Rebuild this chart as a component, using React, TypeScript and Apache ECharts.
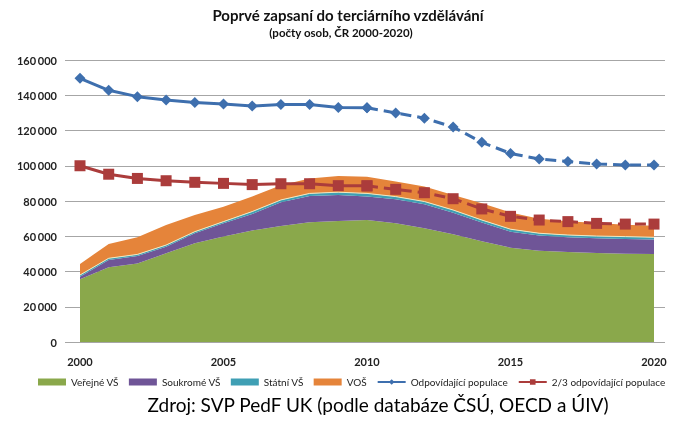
import React, { useEffect, useRef } from "react";
import * as echarts from "echarts";

const years = ["2000", "2001", "2002", "2003", "2004", "2005", "2006", "2007", "2008", "2009", "2010", "2011", "2012", "2013", "2014", "2015", "2016", "2017", "2018", "2019", "2020"];
const verejneVS = [35600, 42400, 44600, 50300, 56000, 59900, 63300, 65800, 68000, 68700, 69200, 67400, 64500, 61200, 57200, 53500, 51800, 51100, 50500, 50100, 50000];
const soukromeVS = [1400, 4100, 4200, 3700, 5700, 7500, 9300, 13500, 14800, 14700, 13300, 13600, 13700, 12200, 10600, 9100, 8600, 8300, 8300, 8400, 8200];
const statniVS = [1000, 1000, 900, 1000, 900, 900, 1400, 1300, 1500, 1600, 1800, 1500, 1500, 1500, 1400, 1400, 1300, 1300, 1300, 1300, 1200];
const vos = [6300, 8100, 9700, 11400, 9500, 8500, 8600, 8400, 8500, 9200, 9500, 8500, 8500, 8500, 9500, 9500, 8300, 7800, 7400, 6700, 6600];
const populace = [149600, 142800, 139200, 137300, 135900, 135000, 133900, 134700, 134700, 133100, 132900, 130000, 127000, 122000, 113300, 107000, 103800, 102400, 101000, 100400, 100400];
const dveTretiny = [100000, 95200, 92800, 91500, 90600, 90000, 89300, 89800, 89800, 88700, 88600, 86600, 84700, 81300, 75500, 71300, 69200, 68300, 67300, 66900, 66900];
const lastMeasured = "2010";

const FONT = "Lato, 'Liberation Sans', sans-serif";

const splitAt = years.indexOf(lastMeasured);
const solidPart = (vals: number[]) => vals.map((v, i) => (i <= splitAt ? v : null));
const dashedPart = (vals: number[]) => vals.map((v, i) => (i >= splitAt ? v : null));

const fmt = (v: number) => String(Math.round(v)).replace(/\B(?=(\d{3})+(?!\d))/g, "\u2006");

export default function App() {
  const ref = useRef<HTMLDivElement>(null);
  useEffect(() => {
    if (!ref.current) return;
    const chart = echarts.init(ref.current, null, { renderer: "svg" });
    const areaColors = ["#8aa84b", "#6f5597", "#3f9fb4", "#e5843a"];
    const blue = "#3e6fae";
    const red = "#ab3c3b";
    const area = (name: string, vals: number[], color: string, border?: string) => ({
      name,
      type: "line",
      xAxisIndex: 1,
      yAxisIndex: 1,
      stack: "total",
      data: vals,
      symbol: "none",
      lineStyle: border ? { width: 1, color: border } : { width: 0 },
      areaStyle: { color, opacity: 1 },
      itemStyle: { color },
      z: 1,
    });
    const popLine = (name: string, vals: (number | null)[], color: string, symbol: string, size: number, dashed: boolean) => ({
      name,
      type: "line",
      xAxisIndex: 1,
      yAxisIndex: 1,
      data: vals,
      symbol,
      symbolSize: size,
      showSymbol: true,
      lineStyle: { width: 3, color, type: dashed ? [11, 6] : "solid" },
      itemStyle: { color },
      z: 3,
    });
    chart.setOption({
      animation: false,
      grid: [
        { left: 65, right: 11, top: 60, bottom: 86 },
        { left: 80, right: 22, top: 60, bottom: 86 },
      ],
      xAxis: [
        { gridIndex: 0, type: "value", min: 0, max: 1, show: false },
        {
          gridIndex: 1,
          type: "category",
          data: years,
          boundaryGap: false,
          axisLine: { show: false },
          axisTick: { show: false },
          splitLine: { show: false },
          axisLabel: {
            interval: 4,
            fontFamily: FONT,
            fontWeight: "bold",
            fontSize: 11,
            color: "#222",
            margin: 14,
          },
        },
      ],
      yAxis: [
        {
          gridIndex: 0,
          type: "value",
          min: 0,
          max: 160000,
          interval: 20000,
          axisLine: { show: false },
          axisTick: { show: false },
          splitLine: { lineStyle: { color: "#a6a6a6", width: 1 } },
          axisLabel: {
            formatter: fmt,
            fontFamily: FONT,
            fontWeight: "bold",
            fontSize: 11,
            color: "#222",
            margin: 8,
          },
        },
        {
          gridIndex: 1,
          type: "value",
          min: 0,
          max: 160000,
          interval: 20000,
          show: false,
          splitLine: { show: false },
        },
      ],
      legend: {
        left: 38,
        top: 377,
        padding: 0,
        itemGap: 10,
        itemWidth: 28,
        itemHeight: 7,
        textStyle: { fontFamily: FONT, fontSize: 10, color: "#222" },
        data: [
          { name: "Veřejné VŠ", icon: "rect" },
          { name: "Soukromé VŠ", icon: "rect" },
          { name: "Státní VŠ", icon: "rect" },
          { name: "VOŠ", icon: "rect" },
          { name: "Odpovídající populace" },
          { name: "2/3 odpovídající populace" },
        ],
      },
      graphic: [
        {
          type: "text",
          x: 348,
          y: 15,
          style: { text: "Poprvé zapsaní do terciárního vzdělávání", font: `bold 15px ${FONT}`, fill: "#111", align: "center", verticalAlign: "middle" },
        },
        {
          type: "text",
          x: 341,
          y: 32,
          style: { text: "(počty osob, ČR 2000-2020)", font: `bold 11.5px ${FONT}`, fill: "#111", align: "center", verticalAlign: "middle" },
        },
        {
          type: "text",
          x: 378,
          y: 404,
          style: { text: "Zdroj: SVP PedF UK (podle databáze ČSÚ, OECD a ÚIV)", font: `19px ${FONT}`, fill: "#000", align: "center", verticalAlign: "middle" },
        },
      ],
      series: [
        area("Veřejné VŠ", verejneVS, areaColors[0]),
        area("Soukromé VŠ", soukromeVS, areaColors[1]),
        area("Státní VŠ", statniVS, areaColors[2], "#efe9c4"),
        area("VOŠ", vos, areaColors[3]),
        popLine("Odpovídající populace", solidPart(populace), blue, "diamond", 11, false),
        popLine("Odpovídající populace", dashedPart(populace), blue, "diamond", 11, true),
        popLine("2/3 odpovídající populace", solidPart(dveTretiny), red, "rect", 11, false),
        popLine("2/3 odpovídající populace", dashedPart(dveTretiny), red, "rect", 11, true),
      ],
    });
    return () => chart.dispose();
  }, []);
  return <div ref={ref} style={{ position: "fixed", left: 0, top: 0, width: 676, height: 428 }} />;
}
